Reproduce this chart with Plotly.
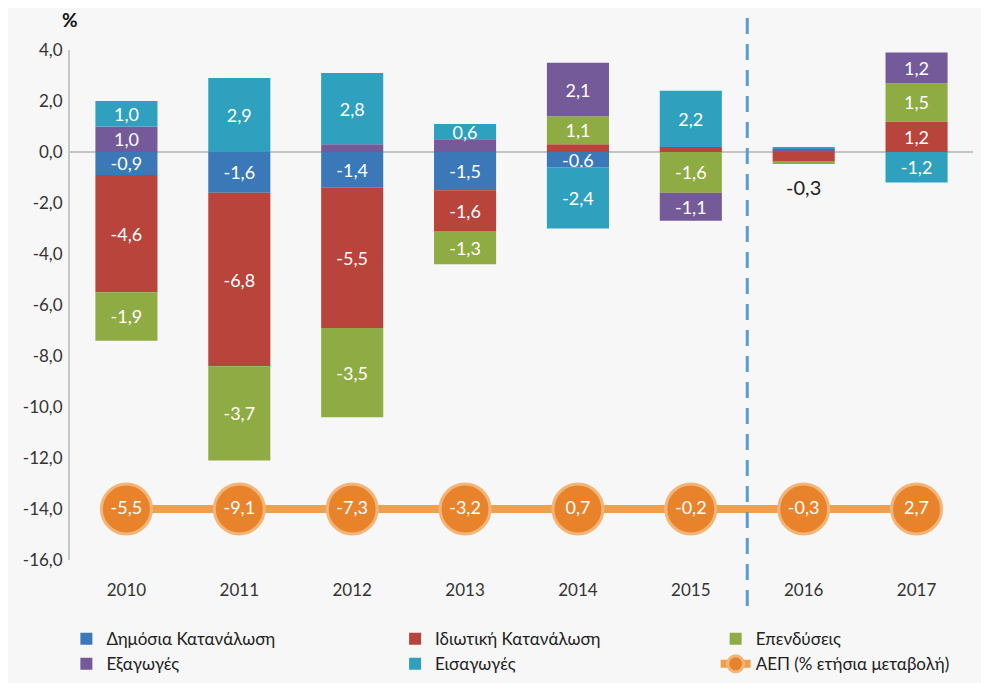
import plotly.graph_objects as go

years = ["2010", "2011", "2012", "2013", "2014", "2015", "2016", "2017"]
public_cons = [-0.9, -1.6, -1.4, -1.5, -0.6, 0.0, 0.07, 0.0]
private_cons = [-4.6, -6.8, -5.5, -1.6, 0.3, 0.2, -0.35, 1.2]
investment = [-1.9, -3.7, -3.5, -1.3, 1.1, -1.6, -0.12, 1.5]
exports = [1.0, 0.0, 0.3, 0.5, 2.1, -1.1, 0.05, 1.2]
imports = [1.0, 2.9, 2.8, 0.6, -2.4, 2.2, 0.08, -1.2]
gdp = [-5.5, -9.1, -7.3, -3.2, 0.7, -0.2, -0.3, 2.7]
total_label_year = "2016"
total_label_text = "-0,3"

series_names = ["Δημόσια Κατανάλωση", "Ιδιωτική Κατανάλωση", "Επενδύσεις", "Εξαγωγές", "Εισαγωγές"]
series_values = [public_cons, private_cons, investment, exports, imports]
series_colors = ["#3b78b8", "#b8443b", "#8fab43", "#755a9a", "#2fa0bd"]
series_legends = ["legend", "legend2", "legend3", "legend", "legend2"]
gdp_name = "ΑΕΠ (% ετήσια μεταβολή)"

y_ticks = [4, 2, 0, -2, -4, -6, -8, -10, -12, -14, -16]
GDP_LEVEL = -14


def fmt(v):
    return f"{v:.1f}".replace(".", ",")


fig = go.Figure()
for name, vals, col, lg in zip(series_names, series_values, series_colors, series_legends):
    texts = [fmt(v) if abs(v) >= 0.55 else "" for v in vals]
    fig.add_trace(go.Bar(
        x=years, y=vals, name=name, legend=lg,
        marker=dict(color=col, line=dict(width=0)),
        text=texts, textposition="inside", insidetextanchor="middle",
        textangle=0, constraintext="none",
        textfont=dict(color="white", size=18, family="Lato"),
        hoverinfo="skip",
    ))

fig.add_trace(go.Scatter(
    x=years, y=[GDP_LEVEL] * len(years), name=gdp_name, legend="legend3",
    mode="lines+markers+text",
    line=dict(color="#eea04f", width=8),
    marker=dict(size=50, color="#e8832c", line=dict(color="#f3b577", width=3)),
    text=[fmt(v) for v in gdp], textposition="middle center",
    textfont=dict(color="white", size=18, family="Lato"),
    hoverinfo="skip",
))

fig.add_trace(go.Scatter(
    x=[total_label_year], y=[-1.5], mode="text", text=[total_label_text],
    textfont=dict(color="#222", size=20, family="Lato"), showlegend=False,
    hoverinfo="skip",
))

fig.add_shape(type="line", xref="x", yref="paper", x0=5.5, x1=5.5,
              y0=-0.09, y1=1.1, line=dict(color="#5b9bd5", width=3, dash="16px,10px"))

fig.add_annotation(text="<b>%</b>", xref="paper", yref="paper", x=0.0, y=1.06,
                   xanchor="center", yanchor="middle", showarrow=False,
                   font=dict(size=19, color="#111", family="Lato"))

leg_common = dict(orientation="v", yanchor="top", xanchor="left", y=-0.12,
                  font=dict(size=17, color="#222", family="Lato"),
                  bgcolor="rgba(0,0,0,0)", itemwidth=30, tracegroupgap=0)

fig.update_layout(
    width=981, height=675,
    barmode="relative", bargap=0.45,
    margin=dict(l=62, r=16, t=42, b=123, autoexpand=False),
    paper_bgcolor="#f7f7f7", plot_bgcolor="rgba(0,0,0,0)",
    font=dict(family="Lato", color="#333"),
    legend=dict(x=-0.004, **leg_common),
    legend2=dict(x=0.36, **leg_common),
    legend3=dict(x=0.715, **leg_common),
    showlegend=True,
)
fig.update_yaxes(range=[-16, 4], tickvals=y_ticks, ticktext=[fmt(v) for v in y_ticks],
                 showgrid=False, zeroline=True, zerolinecolor="#c4c4c4", zerolinewidth=2,
                 showline=True, linecolor="#c8c8c8", linewidth=2,
                 tickfont=dict(size=17, color="#333", family="Lato"), ticks="outside",
                 ticklen=2, tickcolor="rgba(0,0,0,0)")
fig.update_xaxes(range=[-0.5, 7.5], showgrid=False, showline=False, ticks="outside", ticklen=15,
                 tickcolor="rgba(0,0,0,0)", tickfont=dict(size=17, color="#333", family="Lato"))

fig.write_html("out.html")
